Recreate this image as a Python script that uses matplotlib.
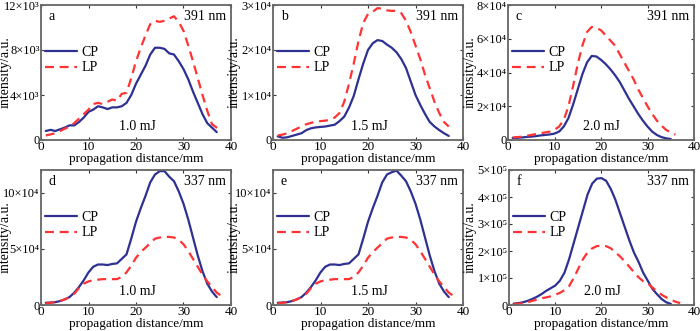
import numpy as np
import matplotlib
matplotlib.use("Agg")
import matplotlib.pyplot as plt

plt.rcParams["font.family"] = ["Liberation Serif", "DejaVu Serif"]

CP_COLOR = "#2E3192"
LP_COLOR = "#FF3333"

# --- 391 nm, 1.0 mJ (units of 1e3) ---
a_cp = [0.8, 0.9, 0.8, 0.95, 1.1, 1.3, 1.3, 1.6, 2.0, 2.5, 2.7, 3.0, 2.9, 2.75, 2.9,
        2.9, 3.0, 3.3, 4.0, 5.0, 5.8, 6.6, 7.6, 8.2, 8.2, 8.1, 7.7, 7.6, 7.0, 6.3,
        5.4, 4.3, 3.3, 2.3, 1.5, 1.1, 0.7]
a_lp = [0.4, 0.5, 0.6, 0.8, 1.0, 1.2, 1.5, 1.9, 2.3, 2.7, 3.2, 3.3, 3.2, 3.4, 3.6,
        3.5, 4.1, 4.2, 5.5, 7.0, 8.2, 9.3, 10.3, 10.6, 10.5, 10.6, 10.8, 11.0, 10.5,
        9.7, 8.4, 7.0, 5.5, 4.0, 2.6, 1.4, 1.1, 0.8]

# --- 391 nm, 1.5 mJ (units of 1e4) ---
b_cp = [0.08, 0.05, 0.06, 0.09, 0.12, 0.15, 0.22, 0.26, 0.28, 0.29, 0.30, 0.32, 0.34,
        0.42, 0.52, 0.72, 0.98, 1.35, 1.7, 2.0, 2.15, 2.22, 2.2, 2.12, 2.05, 1.95,
        1.8, 1.6, 1.3, 1.0, 0.78, 0.58, 0.4, 0.3, 0.22, 0.15, 0.09]
b_lp = [0.1, 0.12, 0.15, 0.2, 0.25, 0.3, 0.35, 0.38, 0.41, 0.42, 0.43, 0.45, 0.5,
        0.6, 0.85, 1.25, 1.7, 2.2, 2.6, 2.8, 2.85, 2.93, 2.92, 2.88, 2.87, 2.87,
        2.82, 2.65, 2.4, 2.1, 1.8, 1.45, 1.15, 0.85, 0.6, 0.4, 0.3]

# --- 391 nm, 2.0 mJ (units of 1e4) ---
c_cp = [0.12, 0.13, 0.15, 0.18, 0.2, 0.23, 0.27, 0.3, 0.33, 0.38, 0.5, 0.8, 1.3,
        2.1, 3.0, 3.9, 4.6, 4.98, 4.95, 4.75, 4.5, 4.2, 3.85, 3.45, 2.95, 2.45, 2.0,
        1.55, 1.15, 0.8, 0.5, 0.3, 0.17, 0.1, 0.06]
c_lp = [0.15, 0.17, 0.2, 0.25, 0.3, 0.35, 0.4, 0.45, 0.5, 0.6, 0.8, 1.2, 2.0, 3.2,
        4.5, 5.6, 6.4, 6.7, 6.65, 6.5, 6.2, 5.9, 5.6, 5.1, 4.6, 4.1, 3.6, 3.0, 2.5,
        2.0, 1.55, 1.15, 0.85, 0.6, 0.45, 0.32]

# --- 337 nm, 1.0 mJ (units of 1e4) ---
d_cp = [0.2, 0.22, 0.25, 0.35, 0.5, 0.7, 1.1, 1.6, 2.2, 2.9, 3.4, 3.6, 3.6, 3.55,
        3.65, 3.7, 4.1, 4.5, 5.9, 7.4, 8.6, 9.7, 10.9, 11.6, 11.9, 11.9, 11.4, 11.0,
        10.1, 9.0, 7.6, 6.0, 4.4, 3.0, 1.9, 1.2, 0.7]
d_lp = [0.15, 0.2, 0.25, 0.35, 0.5, 0.7, 1.0, 1.5, 1.9, 2.1, 2.2, 2.25, 2.3, 2.3,
        2.3, 2.3, 2.5, 2.9, 3.5, 4.2, 4.7, 5.1, 5.5, 5.9, 6.0, 6.05, 6.05, 6.0, 5.8,
        5.4, 4.8, 4.1, 3.4, 2.7, 2.1, 1.6, 1.1, 0.8]

# --- 337 nm, 1.5 mJ (units of 1e4) ---
e_cp = [0.2, 0.22, 0.25, 0.35, 0.5, 0.7, 1.1, 1.6, 2.2, 2.9, 3.4, 3.6, 3.6, 3.55,
        3.65, 3.7, 4.1, 4.5, 5.9, 7.4, 8.6, 9.7, 10.9, 11.6, 11.8, 11.95, 11.5, 11.0,
        10.1, 9.0, 7.6, 6.0, 4.4, 3.0, 1.9, 1.2, 0.7]
e_lp = [0.15, 0.2, 0.25, 0.35, 0.5, 0.7, 1.0, 1.5, 1.9, 2.1, 2.2, 2.25, 2.3, 2.3,
        2.3, 2.3, 2.5, 2.9, 3.5, 4.2, 4.7, 5.1, 5.5, 5.9, 6.0, 6.05, 6.05, 6.0, 5.8,
        5.4, 4.8, 4.1, 3.4, 2.7, 2.1, 1.6, 1.1, 0.8]

# --- 337 nm, 2.0 mJ (units of 1e5) ---
f_cp = [0.05, 0.07, 0.1, 0.15, 0.22, 0.3, 0.4, 0.52, 0.62, 0.72, 0.9, 1.2, 1.7,
        2.3, 2.9, 3.5, 4.1, 4.5, 4.68, 4.7, 4.6, 4.3, 3.9, 3.4, 2.9, 2.4, 1.95,
        1.6, 1.2, 0.9, 0.6, 0.4, 0.22, 0.1, 0.04]
f_lp = [0.03, 0.05, 0.07, 0.1, 0.15, 0.2, 0.25, 0.28, 0.32, 0.38, 0.45, 0.55, 0.7,
        1.0, 1.35, 1.7, 1.95, 2.1, 2.18, 2.2, 2.18, 2.1, 1.95, 1.8, 1.62, 1.42, 1.22,
        1.03, 0.88, 0.8, 0.65, 0.5, 0.38, 0.28, 0.2, 0.12, 0.07]

panel_letters = ["a", "b", "c", "d", "e", "f"]
wavelengths = ["391 nm", "391 nm", "391 nm", "337 nm", "337 nm", "337 nm"]
energies = ["1.0 mJ", "1.5 mJ", "2.0 mJ", "1.0 mJ", "1.5 mJ", "2.0 mJ"]
exponents = [3, 4, 4, 4, 4, 5]
y_tick_mults = [[0, 4, 8, 12], [0, 1, 2, 3], [0, 2, 4, 6, 8],
                [0, 5, 10], [0, 5, 10], [0, 1, 2, 3, 4, 5]]
y_tops = [12, 3, 8, 12, 12, 5]
cp_series = [a_cp, b_cp, c_cp, d_cp, e_cp, f_cp]
lp_series = [a_lp, b_lp, c_lp, d_lp, e_lp, f_lp]
x_ticks = [0, 10, 20, 30, 40]

SUP = str.maketrans("0123456789", "⁰¹²³⁴⁵⁶⁷⁸⁹")

# axes boxes in pixels: (left, top, right, bottom)
W, H = 700, 331
boxes = [(41, 5, 231, 140), (273, 5, 463, 140), (508, 5, 694, 140),
         (41, 170, 231, 305), (273, 170, 463, 305), (509, 170, 694, 305)]
ylabel_right = [12, 241, 477, 12, 241, 477]

fig = plt.figure(figsize=(W / 100, H / 100), dpi=100)

for i in range(6):
    l, t, r, b = boxes[i]
    ax = fig.add_axes([l / W, 1 - b / H, (r - l) / W, (b - t) / H])
    scale = 10.0 ** exponents[i]
    cp = np.array(cp_series[i]) * scale
    lp = np.array(lp_series[i]) * scale
    x_cp = np.arange(1, len(cp) + 1)
    x_lp = np.arange(1, len(lp) + 1)
    ax.plot(x_cp, cp, color=CP_COLOR, lw=1.6, label="CP", solid_capstyle="round")
    ax.plot(x_lp, lp, color=LP_COLOR, lw=1.6, ls=(0, (4, 2.6)), label="LP")

    ax.set_xlim(0, 40)
    ax.set_ylim(0, y_tops[i] * scale)
    ax.set_xticks(x_ticks)
    ax.set_xticklabels([str(v) for v in x_ticks], fontsize=9.5)
    yt = y_tick_mults[i]
    ax.set_yticks([v * scale for v in yt])
    ax.set_yticklabels(["0" if v == 0 else "%d×10%s" % (v, str(exponents[i]).translate(SUP))
                        for v in yt], fontsize=9)
    ax.tick_params(direction="in", length=2.5, width=0.8, top=True, right=True,
                   pad=1, color="#333333")
    for s in ax.spines.values():
        s.set_color("#666666")
        s.set_linewidth(1.3)
    ax.set_xlabel("propagation distance/mm", fontsize=9.5, labelpad=0)
    ax.set_ylabel("intensity/a.u.", fontsize=10)
    ax.yaxis.set_label_coords((ylabel_right[i] - l) / (r - l), 0.5)

    ax.text(0.04, 0.915, panel_letters[i], transform=ax.transAxes, fontsize=10,
            ha="left", va="center")
    ax.text(0.975, 0.915, wavelengths[i], transform=ax.transAxes, fontsize=10,
            ha="right", va="center")
    ax.text(0.505, 0.1, energies[i], transform=ax.transAxes, fontsize=10,
            ha="center", va="center")
    ax.legend(loc="center left", bbox_to_anchor=(-0.03, 0.59), frameon=False,
              fontsize=10, handlelength=2.3, handletextpad=0.3,
              labelspacing=0.15, borderpad=0.2)

fig.savefig("out.png", dpi=100)
